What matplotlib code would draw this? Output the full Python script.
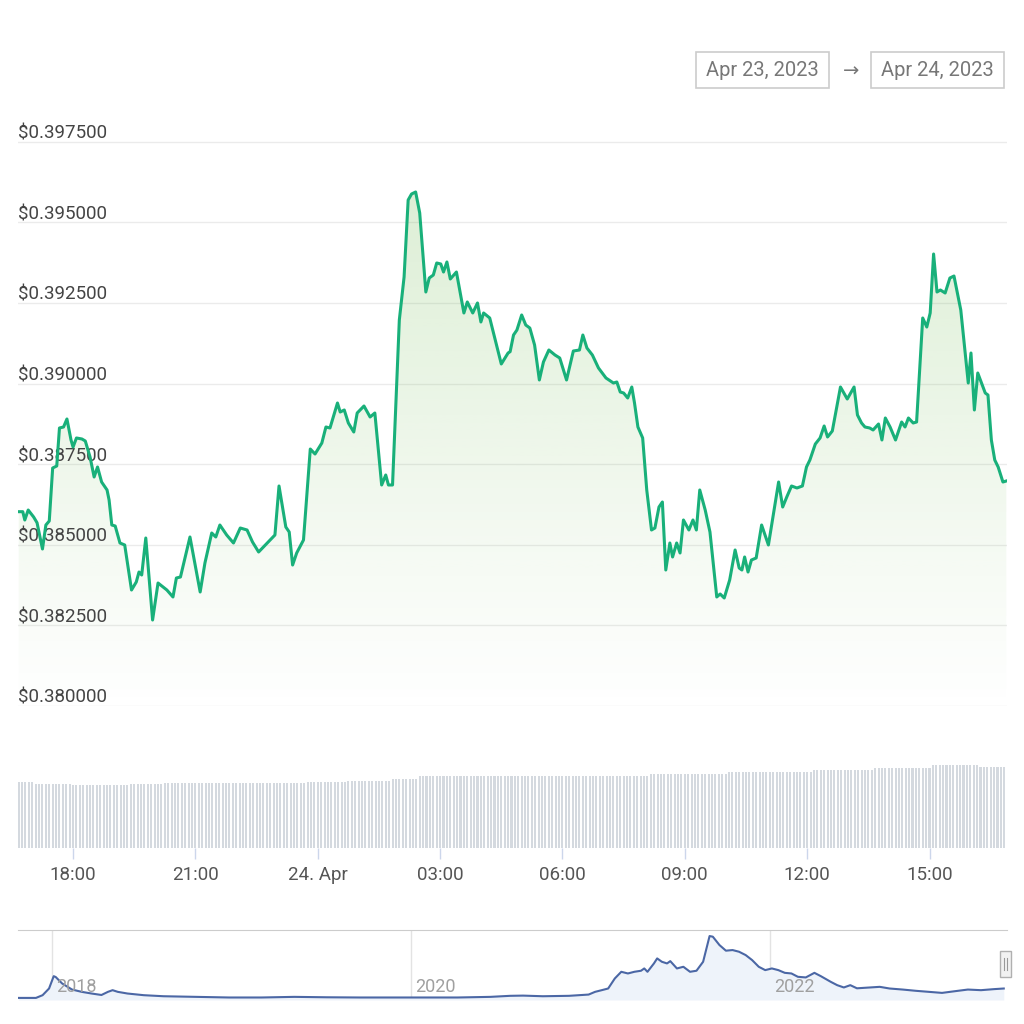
import datetime as dt
import numpy as np
import matplotlib
matplotlib.use("Agg")
import matplotlib.pyplot as plt
import matplotlib.dates as mdates
import matplotlib.colors as mcolors
import matplotlib.transforms as mtransforms
from matplotlib.patches import Rectangle
from matplotlib.lines import Line2D

plt.rcParams["font.family"] = ["Roboto", "DejaVu Sans"]

START = dt.datetime(2023, 4, 23, 16, 40)

# price series: minutes after START, price in USD
price_minutes = [
    0, 6, 9, 14, 22, 27, 35, 40, 45, 50,
    56, 60, 66, 71, 77, 80, 85, 93, 98, 105,
    111, 116, 122, 130, 133, 137, 142, 149, 156, 166,
    173, 177, 181, 187, 197, 205, 218, 227, 232, 238,
    252, 267, 274, 284, 290, 296, 306, 316, 326, 336,
    344, 353, 360, 370, 377, 383, 393, 398, 403, 409,
    419, 429, 436, 446, 452, 458, 469, 473, 479, 485,
    493, 498, 508, 517, 524, 534, 540, 544, 550, 560,
    567, 573, 578, 584, 590, 599, 604, 610, 615, 621,
    625, 630, 635, 644, 655, 660, 668, 675, 680, 684,
    693, 710, 720, 723, 728, 733, 740, 746, 752, 759,
    766, 772, 780, 789, 796, 806, 816, 825, 830, 836,
    844, 853, 864, 875, 880, 885, 890, 896, 902, 906,
    911, 918, 924, 931, 936, 942, 947, 952, 958, 962,
    968, 973, 978, 986, 992, 997, 1002, 1010, 1017, 1027,
    1032, 1038, 1046, 1054, 1060, 1064, 1068, 1073, 1078, 1085,
    1093, 1103, 1118, 1124, 1130, 1137, 1145, 1153, 1159, 1164,
    1172, 1179, 1185, 1190, 1197, 1209, 1219, 1229, 1234, 1240,
    1245, 1252, 1257, 1265, 1270, 1275, 1282, 1290, 1299, 1304,
    1309, 1316, 1321, 1330, 1336, 1341, 1346, 1351, 1356, 1363,
    1370, 1376, 1386, 1397, 1401, 1406, 1411, 1422, 1426, 1431,
    1436, 1441, 1448, 1453,
]
price_values = [
    0.386027, 0.386027, 0.385769, 0.386079, 0.385862, 0.385685, 0.384870, 0.385614, 0.385738, 0.387382,
    0.387444, 0.388623, 0.388654, 0.388902, 0.388251, 0.388033, 0.388313, 0.388282, 0.388220, 0.387723,
    0.387103, 0.387413, 0.386948, 0.386700, 0.386390, 0.385614, 0.385583, 0.385056, 0.384994, 0.383598,
    0.383846, 0.384156, 0.384063, 0.385211, 0.382667, 0.383815, 0.383598, 0.383381, 0.383970, 0.384001,
    0.385242, 0.383536, 0.384435, 0.385366, 0.385242, 0.385614, 0.385304, 0.385056, 0.385521, 0.385459,
    0.385087, 0.384777, 0.384932, 0.385149, 0.385304, 0.386824, 0.385552, 0.385397, 0.384373, 0.384746,
    0.385149, 0.387971, 0.387816, 0.388157, 0.388654, 0.388623, 0.389398, 0.389119, 0.389181, 0.388778,
    0.388499, 0.389088, 0.389305, 0.388964, 0.389088, 0.386855, 0.387165, 0.386855, 0.386855, 0.391973,
    0.393306, 0.395695, 0.395881, 0.395943, 0.395291, 0.392841, 0.393275, 0.393368, 0.393741, 0.393710,
    0.393461, 0.393772, 0.393244, 0.393461, 0.392190, 0.392531, 0.392190, 0.392500, 0.391911, 0.392190,
    0.392035, 0.390608, 0.390949, 0.390990, 0.391507, 0.391662, 0.392128, 0.391817, 0.391724, 0.391197,
    0.390112, 0.390670, 0.391042, 0.390887, 0.390794, 0.390112, 0.391011, 0.391042, 0.391507, 0.391104,
    0.390887, 0.390484, 0.390174, 0.390018, 0.390050, 0.389739, 0.389708, 0.389553, 0.389894, 0.389398,
    0.388654, 0.388313, 0.386700, 0.385459, 0.385521, 0.386172, 0.386327, 0.384218, 0.385056, 0.384622,
    0.385056, 0.384746, 0.385769, 0.385459, 0.385769, 0.385459, 0.386700, 0.386079, 0.385397, 0.383381,
    0.383474, 0.383350, 0.383908, 0.384839, 0.384280, 0.384218, 0.384622, 0.384156, 0.384528, 0.384591,
    0.385614, 0.384994, 0.386948, 0.386172, 0.386483, 0.386824, 0.386762, 0.386824, 0.387413, 0.387630,
    0.388126, 0.388313, 0.388685, 0.388344, 0.388530, 0.389894, 0.389522, 0.389894, 0.389026, 0.388778,
    0.388654, 0.388623, 0.388561, 0.388747, 0.388251, 0.388933, 0.388654, 0.388251, 0.388809, 0.388654,
    0.388933, 0.388778, 0.388809, 0.392035, 0.391755, 0.392190, 0.394020, 0.392841, 0.392903, 0.392810,
    0.393275, 0.393337, 0.392283, 0.390018, 0.390949, 0.389181, 0.390329, 0.389708, 0.389646, 0.388251,
    0.387630, 0.387413, 0.386948, 0.386979,
]

# volume: step levels (relative), each level starts at the given minute
volume_from_minute = [0, 21, 78, 165, 213, 424, 482, 549, 587, 928, 1043, 1168, 1259, 1342, 1414]
volume_level = [66, 64, 63, 64, 65, 66, 67, 69, 72, 74, 76, 78, 80, 83, 81]
volume_bar_minutes = list(range(0, 1455, 5))

price_ticks = [0.3800, 0.3825, 0.3850, 0.3875, 0.3900, 0.3925, 0.3950, 0.3975]
time_ticks = [dt.datetime(2023, 4, 23, 18), dt.datetime(2023, 4, 23, 21), dt.datetime(2023, 4, 24, 0),
              dt.datetime(2023, 4, 24, 3), dt.datetime(2023, 4, 24, 6), dt.datetime(2023, 4, 24, 9),
              dt.datetime(2023, 4, 24, 12), dt.datetime(2023, 4, 24, 15)]
time_labels = ["18:00", "21:00", "24. Apr", "03:00", "06:00", "09:00", "12:00", "15:00"]

# navigator: full history (decimal year, USD)
nav_years = [
    2017.812, 2017.910, 2017.947, 2017.983, 2018.009, 2018.020, 2018.056, 2018.111, 2018.165, 2018.220,
    2018.275, 2018.311, 2018.337, 2018.366, 2018.420, 2018.511, 2018.621, 2018.803, 2018.985, 2019.167,
    2019.349, 2019.531, 2019.714, 2019.896, 2020.078, 2020.260, 2020.442, 2020.552, 2020.624, 2020.734,
    2020.880, 2020.989, 2021.025, 2021.062, 2021.098, 2021.135, 2021.171, 2021.208, 2021.244, 2021.281,
    2021.299, 2021.317, 2021.353, 2021.371, 2021.397, 2021.426, 2021.444, 2021.481, 2021.517, 2021.554,
    2021.590, 2021.627, 2021.663, 2021.681, 2021.718, 2021.754, 2021.791, 2021.827, 2021.864, 2021.900,
    2021.937, 2021.973, 2022.010, 2022.046, 2022.082, 2022.119, 2022.155, 2022.199, 2022.247, 2022.283,
    2022.338, 2022.374, 2022.411, 2022.447, 2022.484, 2022.557, 2022.611, 2022.666, 2022.739, 2022.812,
    2022.885, 2022.958, 2023.029, 2023.102, 2023.175, 2023.248, 2023.302,
]
nav_values = [
    0.00, 0.00, 0.13, 0.45, 1.04, 1.00, 0.69, 0.40, 0.29, 0.21,
    0.14, 0.29, 0.37, 0.29, 0.21, 0.13, 0.08, 0.05, 0.02, 0.02,
    0.05, 0.03, 0.02, 0.02, 0.02, 0.02, 0.05, 0.10, 0.11, 0.08,
    0.10, 0.16, 0.29, 0.37, 0.45, 0.93, 1.25, 1.17, 1.25, 1.30,
    1.41, 1.25, 1.65, 1.89, 1.73, 1.65, 1.76, 1.41, 1.49, 1.25,
    1.30, 1.73, 2.96, 2.93, 2.53, 2.26, 2.29, 2.21, 2.05, 1.81,
    1.49, 1.33, 1.41, 1.33, 1.20, 1.17, 1.01, 0.98, 1.20, 1.04,
    0.77, 0.61, 0.50, 0.61, 0.46, 0.50, 0.53, 0.45, 0.40, 0.34,
    0.29, 0.24, 0.32, 0.40, 0.37, 0.42, 0.45,
]
year_ticks = [2018, 2020, 2022]

LINE = "#19b07a"
W, H = 1024, 1024


def rect(x0, y0, x1, y1):
    # pixel box (top-left origin) -> figure axes rect
    return [x0 / W, 1 - y1 / H, (x1 - x0) / W, (y1 - y0) / H]


fig = plt.figure(figsize=(10.24, 10.24), dpi=100)
fig.patch.set_facecolor("white")

t = mdates.date2num([START + dt.timedelta(minutes=m) for m in price_minutes])
p = np.array(price_values)
x_lo = mdates.date2num(START - dt.timedelta(minutes=1))
x_hi = mdates.date2num(START + dt.timedelta(minutes=1454))

# ---- main price chart
ax = fig.add_axes(rect(18, 120, 1007, 706))
y_lo, y_hi = 0.380, 0.398176
for v in price_ticks:
    ax.axhline(v, color="#ebebeb", lw=1.0, zorder=0)

grad = np.zeros((256, 1, 4))
grad[..., :3] = mcolors.to_rgb("#78be5a")
grad[..., 3] = np.linspace(0.25, 0.0, 256).reshape(-1, 1)
im = ax.imshow(grad, extent=[x_lo, x_hi, y_lo, p.max()], aspect="auto",
               origin="upper", zorder=1, interpolation="bilinear")
poly = ax.fill_between(t, p, y_lo, color="none", lw=0)
im.set_clip_path(poly.get_paths()[0], transform=ax.transData)

# y labels sit just above their grid lines
lab_tr = mtransforms.offset_copy(ax.get_yaxis_transform(), fig=fig, x=0, y=3, units="dots")
for v in price_ticks:
    ax.text(0.0, v, f"${v:.6f}", transform=lab_tr, ha="left", va="baseline",
            fontsize=13.5, color="#444444", zorder=2)

ax.plot(t, p, color=LINE, lw=2.2, zorder=3, solid_joinstyle="round")
ax.set_xlim(x_lo, x_hi)
ax.set_ylim(y_lo, y_hi)
ax.axis("off")

# ---- volume bars
axv = fig.add_axes(rect(18, 750, 1007, 848))
vt = mdates.date2num([START + dt.timedelta(minutes=m) for m in volume_bar_minutes])
idx = np.searchsorted(volume_from_minute, volume_bar_minutes, side="right") - 1
vols = np.array(volume_level)[idx]
axv.bar(vt, vols, width=3.0 / 1440, color="#d4d9df", align="center", lw=0)
axv.set_xlim(x_lo, x_hi)
axv.set_ylim(0, 98)
for s in axv.spines.values():
    s.set_visible(False)
axv.set_yticks([])
axv.set_xticks(mdates.date2num(time_ticks))
axv.set_xticklabels(time_labels)
axv.tick_params(axis="x", length=8, width=1, color="#ccd6eb", pad=5,
                labelsize=13.5, labelcolor="#555555")

# ---- navigator
axn = fig.add_axes(rect(18, 930, 1007, 1000))
axn.fill_between(nav_years, nav_values, -0.1, color="#eef3fa", lw=0)
axn.plot(nav_years, nav_values, color="#4b67a5", lw=1.5)
for yr in year_ticks:
    axn.axvline(yr, color="#e3e3e3", lw=1, zorder=0)
    axn.text(yr + 0.02, 0.06, f"{yr}", transform=axn.get_xaxis_transform(), ha="left", va="bottom",
             fontsize=13, color="#a0a0a0")
axn.set_xlim(2017.81, 2023.32)
axn.set_ylim(-0.1, 3.25)
for k, s in axn.spines.items():
    s.set_visible(k == "top")
axn.spines["top"].set_color("#cccccc")
axn.set_xticks([])
axn.set_yticks([])

# navigator handle
fig.add_artist(Rectangle((1000 / W, 1 - 977 / H), 11 / W, 26 / H, transform=fig.transFigure,
                         facecolor="#f2f2f2", edgecolor="#b0b0b0", lw=1))
for hx in (1004, 1007):
    fig.add_artist(Line2D([hx / W, hx / W], [1 - 958 / H, 1 - 970 / H], transform=fig.transFigure,
                          color="#999999", lw=0.8))

# ---- date range boxes
for (x0, x1), txt in [((696, 829), "Apr 23, 2023"), ((871, 1004), "Apr 24, 2023")]:
    fig.add_artist(Rectangle((x0 / W, 1 - 88 / H), (x1 - x0) / W, 36 / H, transform=fig.transFigure,
                             facecolor="white", edgecolor="#cccccc", lw=1.2))
    fig.text((x0 + x1) / 2 / W, 1 - 70 / H, txt, ha="center", va="center",
             fontsize=14.5, color="#777777")
fig.text(851 / W, 1 - 71 / H, "\u2192", ha="center", va="center", fontsize=14, color="#777777",
         family=["DejaVu Sans"])

fig.savefig("out.png", dpi=100)
plt.close(fig)
